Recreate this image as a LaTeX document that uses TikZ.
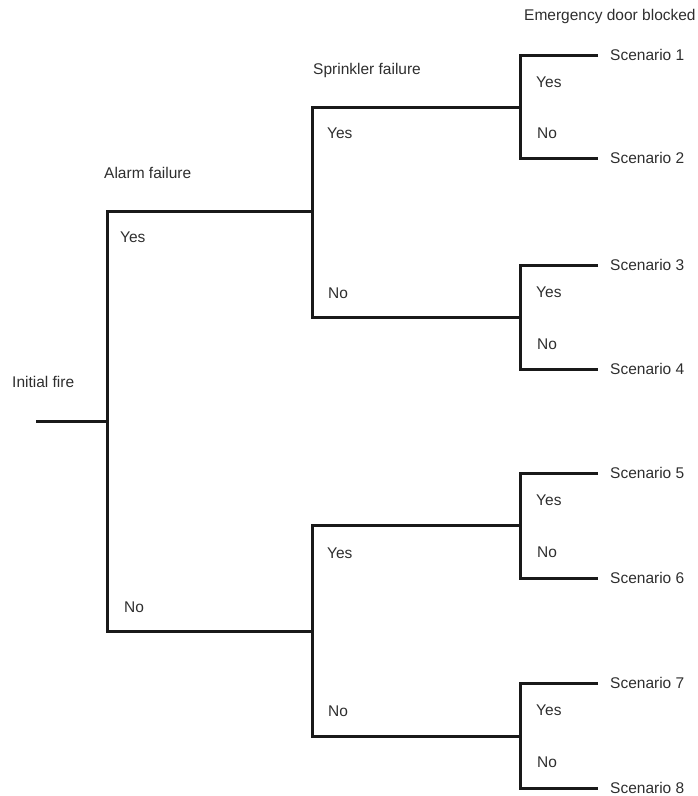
\documentclass[tikz,border=0pt]{standalone}
\usepackage{fontspec}
\setmainfont{Liberation Sans}
\begin{document}
\begin{tikzpicture}[x=1pt,y=-1pt,
  branch/.style={draw=black!90,line width=3pt,line cap=butt,line join=miter},
  lbl/.style={anchor=west,inner sep=0pt,font=\fontsize{15.5}{18}\selectfont,text=black!82}]
\useasboundingbox (0,0) rectangle (698,796);

% junction points of the event tree
\coordinate (start) at (36,421);
\coordinate (a) at (107,421);
\coordinate (aY) at (107,211);
\coordinate (aN) at (107,631);
\coordinate (s1) at (312,211);
\coordinate (s2) at (312,631);
\coordinate (s1Y) at (312,107);
\coordinate (s1N) at (312,317);
\coordinate (s2Y) at (312,525);
\coordinate (s2N) at (312,736);
\coordinate (e1) at (520,107);
\coordinate (e2) at (520,317);
\coordinate (e3) at (520,525);
\coordinate (e4) at (520,736);

% scenario end labels
\node[lbl] (sc1) at (610,55) {Scenario 1};
\node[lbl] (sc2) at (610,158) {Scenario 2};
\node[lbl] (sc3) at (610,265) {Scenario 3};
\node[lbl] (sc4) at (610,369) {Scenario 4};
\node[lbl] (sc5) at (610,473) {Scenario 5};
\node[lbl] (sc6) at (610,578) {Scenario 6};
\node[lbl] (sc7) at (610,683) {Scenario 7};
\node[lbl] (sc8) at (610,788) {Scenario 8};

% column headings
\node[lbl] (h0) at (12,382) {Initial fire};
\node[lbl] (h1) at (104,173) {Alarm failure};
\node[lbl] (h2) at (313,70) {Sprinkler failure};
\node[lbl] (h3) at (524,16) {Emergency door blocked};

% tree branches
\draw[branch] (start) -- (a);
\draw[branch] (s1) -- (aY) -- (aN) -- (s2);
\draw[branch] (e1) -- (s1Y) -- (s1N) -- (e2);
\draw[branch] (e3) -- (s2Y) -- (s2N) -- (e4);
\foreach \e/\t/\b in {e1/sc1/sc2,e2/sc3/sc4,e3/sc5/sc6,e4/sc7/sc8}{
  \draw[branch] ([xshift=-12pt]\t.west) -| (\e) |- ([xshift=-12pt]\b.west);
}

% branch outcomes
\node[lbl] (ay) at (120,237) {Yes};
\node[lbl] (an) at (124,607) {No};
\node[lbl] (s1y) at (327,133) {Yes};
\node[lbl] (s1n) at (328,293) {No};
\node[lbl] (s2y) at (327,553) {Yes};
\node[lbl] (s2n) at (328,711) {No};
\node[lbl] (e1y) at (536,82) {Yes};
\node[lbl] (e1n) at (537,133) {No};
\node[lbl] (e2y) at (536,292) {Yes};
\node[lbl] (e2n) at (537,344) {No};
\node[lbl] (e3y) at (536,500) {Yes};
\node[lbl] (e3n) at (537,552) {No};
\node[lbl] (e4y) at (536,710) {Yes};
\node[lbl] (e4n) at (537,762) {No};
\end{tikzpicture}
\end{document}
